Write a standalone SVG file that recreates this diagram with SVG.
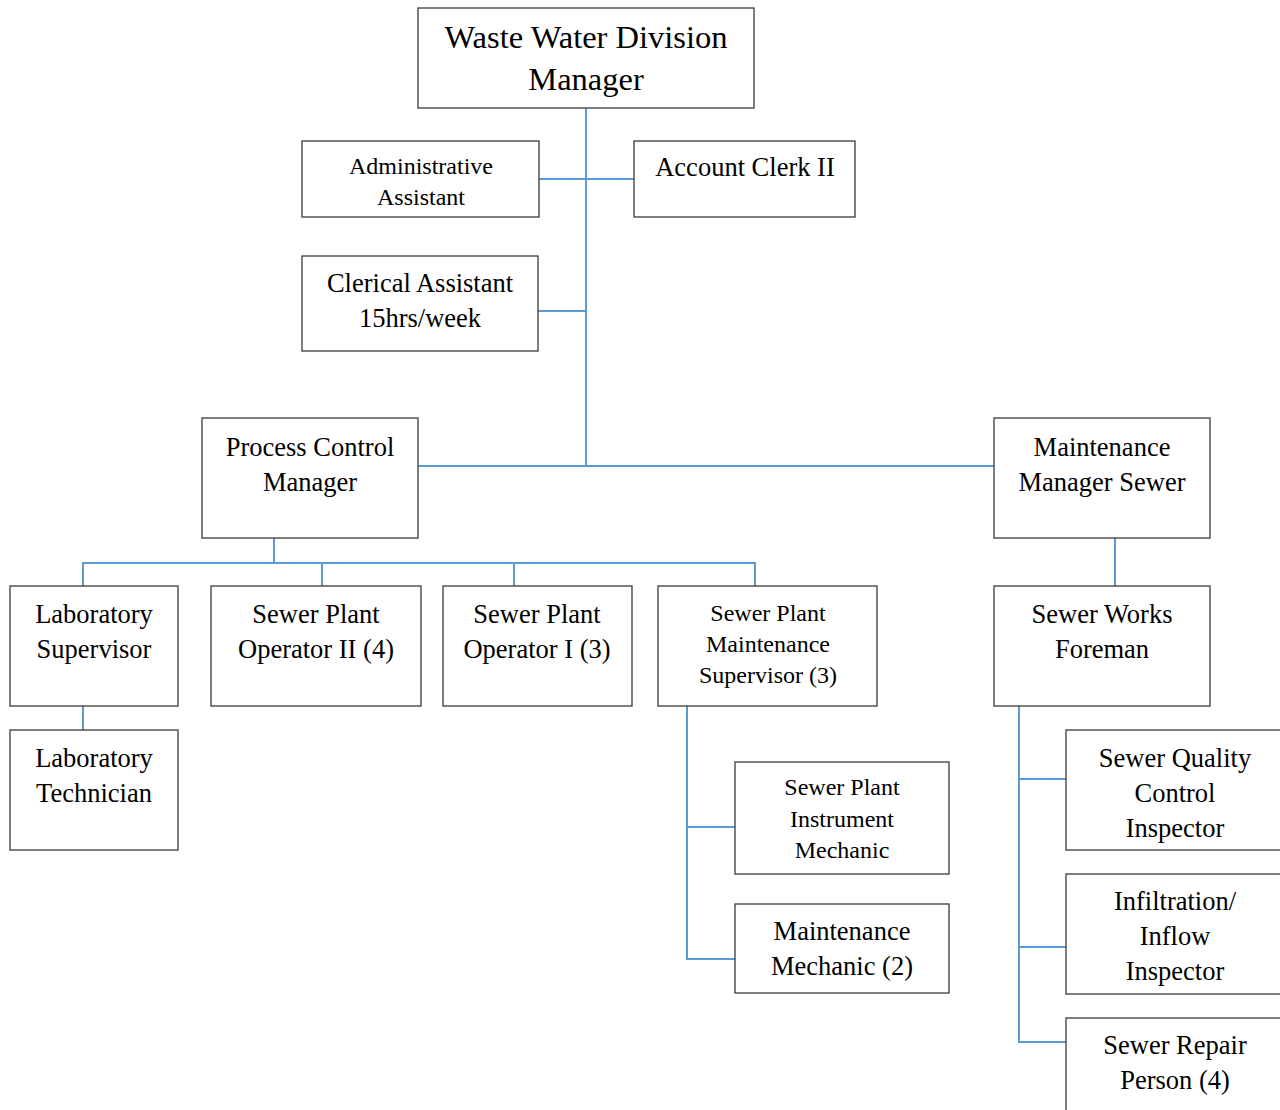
<svg xmlns="http://www.w3.org/2000/svg" width="1280" height="1110" viewBox="0 0 1280 1110">
  <style>
    .box { fill: #ffffff; stroke: #3a3a3a; stroke-width: 1.3; }
    .t { font-family: "Liberation Serif", "Times New Roman", serif; fill: #000000; text-anchor: middle; font-size: 26.5px; }
    .s { font-size: 24px; }
    .xl { font-size: 32.5px; }
    .link { fill: none; stroke: #5b9bd5; stroke-width: 2; }
  </style>
  <rect width="1280" height="1110" fill="#ffffff"/>

  <!-- connectors -->
  <g id="connectors">
    <path class="link" d="M586 108 V466"/>
    <path class="link" d="M539 179 H634"/>
    <path class="link" d="M538 311 H586"/>
    <path class="link" d="M418 466 H994"/>
    <path class="link" d="M274 538 V563"/>
    <path class="link" d="M83 586 V563 H755 V586"/>
    <path class="link" d="M322 563 V586"/>
    <path class="link" d="M514 563 V586"/>
    <path class="link" d="M83 706 V730"/>
    <path class="link" d="M687 706 V959 H735"/>
    <path class="link" d="M687 827 H735"/>
    <path class="link" d="M1115 538 V586"/>
    <path class="link" d="M1019 706 V1042 H1066"/>
    <path class="link" d="M1019 779 H1066"/>
    <path class="link" d="M1019 947 H1066"/>
  </g>

  <!-- nodes -->
  <g id="division-manager">
    <rect class="box" x="418" y="8" width="336" height="100"/>
    <text class="t xl" x="586" y="48">Waste Water Division</text>
    <text class="t xl" x="586" y="90">Manager</text>
  </g>
  <g id="administrative-assistant">
    <rect class="box" x="302" y="141" width="237" height="76"/>
    <text class="t s" x="421" y="174">Administrative</text>
    <text class="t s" x="421" y="205">Assistant</text>
  </g>
  <g id="account-clerk">
    <rect class="box" x="634" y="141" width="221" height="76"/>
    <text class="t" x="745" y="176">Account Clerk II</text>
  </g>
  <g id="clerical-assistant">
    <rect class="box" x="302" y="256" width="236" height="95"/>
    <text class="t" x="420" y="292">Clerical Assistant</text>
    <text class="t" x="420" y="327">15hrs/week</text>
  </g>
  <g id="process-control-manager">
    <rect class="box" x="202" y="418" width="216" height="120"/>
    <text class="t" x="310" y="456">Process Control</text>
    <text class="t" x="310" y="491">Manager</text>
  </g>
  <g id="maintenance-manager-sewer">
    <rect class="box" x="994" y="418" width="216" height="120"/>
    <text class="t" x="1102" y="456">Maintenance</text>
    <text class="t" x="1102" y="491">Manager Sewer</text>
  </g>
  <g id="laboratory-supervisor">
    <rect class="box" x="10" y="586" width="168" height="120"/>
    <text class="t" x="94" y="623">Laboratory</text>
    <text class="t" x="94" y="658">Supervisor</text>
  </g>
  <g id="laboratory-technician">
    <rect class="box" x="10" y="730" width="168" height="120"/>
    <text class="t" x="94" y="767">Laboratory</text>
    <text class="t" x="94" y="802">Technician</text>
  </g>
  <g id="sewer-plant-operator-2">
    <rect class="box" x="211" y="586" width="210" height="120"/>
    <text class="t" x="316" y="623">Sewer Plant</text>
    <text class="t" x="316" y="658">Operator II (4)</text>
  </g>
  <g id="sewer-plant-operator-1">
    <rect class="box" x="443" y="586" width="189" height="120"/>
    <text class="t" x="537" y="623">Sewer Plant</text>
    <text class="t" x="537" y="658">Operator I (3)</text>
  </g>
  <g id="sewer-plant-maintenance-supervisor">
    <rect class="box" x="658" y="586" width="219" height="120"/>
    <text class="t s" x="768" y="621">Sewer Plant</text>
    <text class="t s" x="768" y="652">Maintenance</text>
    <text class="t s" x="768" y="683">Supervisor (3)</text>
  </g>
  <g id="sewer-plant-instrument-mechanic">
    <rect class="box" x="735" y="762" width="214" height="112"/>
    <text class="t s" x="842" y="795">Sewer Plant</text>
    <text class="t s" x="842" y="827">Instrument</text>
    <text class="t s" x="842" y="858">Mechanic</text>
  </g>
  <g id="maintenance-mechanic">
    <rect class="box" x="735" y="904" width="214" height="89"/>
    <text class="t" x="842" y="940">Maintenance</text>
    <text class="t" x="842" y="975">Mechanic (2)</text>
  </g>
  <g id="sewer-works-foreman">
    <rect class="box" x="994" y="586" width="216" height="120"/>
    <text class="t" x="1102" y="623">Sewer Works</text>
    <text class="t" x="1102" y="658">Foreman</text>
  </g>
  <g id="sewer-quality-control-inspector">
    <rect class="box" x="1066" y="730" width="218" height="120"/>
    <text class="t" x="1175" y="767">Sewer Quality</text>
    <text class="t" x="1175" y="802">Control</text>
    <text class="t" x="1175" y="837">Inspector</text>
  </g>
  <g id="infiltration-inflow-inspector">
    <rect class="box" x="1066" y="874" width="218" height="120"/>
    <text class="t" x="1175" y="910">Infiltration/</text>
    <text class="t" x="1175" y="945">Inflow</text>
    <text class="t" x="1175" y="980">Inspector</text>
  </g>
  <g id="sewer-repair-person">
    <rect class="box" x="1066" y="1018" width="218" height="120"/>
    <text class="t" x="1175" y="1054">Sewer Repair</text>
    <text class="t" x="1175" y="1089">Person (4)</text>
  </g>
</svg>
